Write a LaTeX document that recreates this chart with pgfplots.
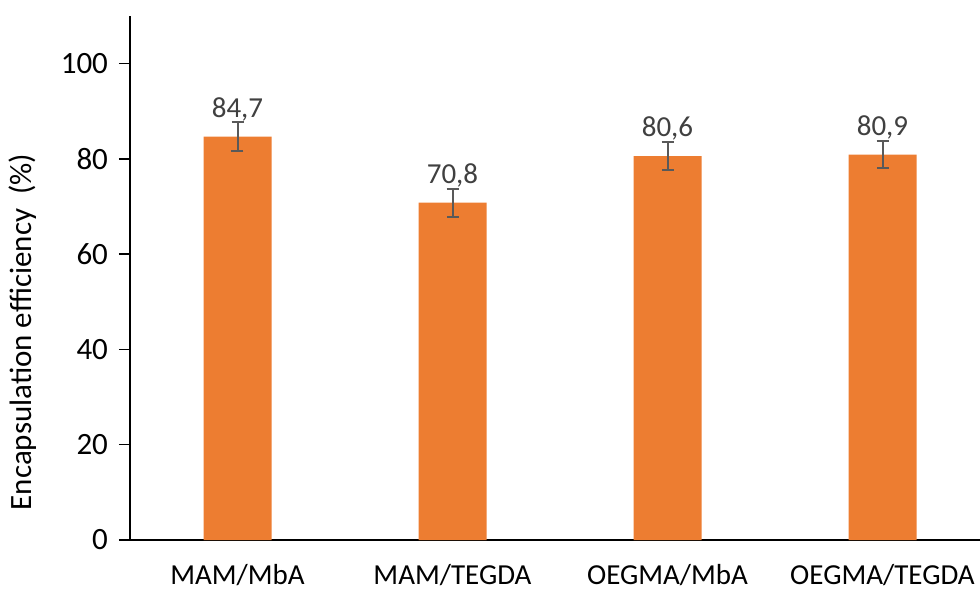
\documentclass[border=0pt]{standalone}
\usepackage{fontspec}
\setmainfont{Carlito}
\usepackage{pgfplots}
\pgfplotsset{compat=1.18}
\definecolor{barorange}{HTML}{ED7D31}
\definecolor{labelgray}{HTML}{404040}
\definecolor{errgray}{HTML}{595959}

\begin{document}
\begin{tikzpicture}
\begin{axis}[
    at={(0,0)}, anchor=south west,
    scale only axis,
    width=430pt, height=262pt,
    ybar, bar width=34pt, bar shift=0pt,
    xmin=-0.5, xmax=3.5,
    ymin=0, ymax=110,
    enlargelimits=false,
    axis x line*=bottom, axis y line*=left,
    axis line style={-, black, line width=0.75pt},
    xtick=data,
    xticklabels={MAM/MbA, MAM/TEGDA, OEGMA/MbA, OEGMA/TEGDA},
    x tick style={draw=none},
    x tick label style={font=\fontsize{14.5}{16}\selectfont, inner sep=0pt, yshift=-6.3pt},
    ytick={0,20,40,60,80,100},
    y tick style={black, line width=0.75pt},
    tick align=outside,
    major tick length=5.5pt,
    y tick label style={font=\fontsize{15.5}{17}\selectfont, xshift=-2pt},
    /pgf/number format/assume math mode=true,
    ylabel={Encapsulation efficiency\ \ (\%)},
    ylabel style={at={(axis description cs:-0.1245,0.397)}, anchor=center, rotate=0,
        font=\fontsize{15.5}{17}\selectfont},
    nodes near coords={\pgfmathprintnumber[fixed, fixed zerofill, precision=1, use comma]{\pgfplotspointmeta}},
    nodes near coords style={font=\fontsize{14.5}{16}\selectfont, text=labelgray, anchor=base, yshift=9.7pt},
    point meta=y,
]
\addplot[fill=barorange, draw=none,
    error bars/.cd, y dir=both, y explicit,
    error bar style={errgray, line width=1pt},
    error mark options={errgray, line width=1pt, mark size=3pt, rotate=90}]
    table[x=x, y=y, y error=e] {
x y e
0 84.7 3.0
1 70.8 2.9
2 80.6 2.9
3 80.9 2.9
};
\end{axis}
\pgfresetboundingbox
\path (-65pt,-24.5pt) rectangle (425pt,270pt);
\end{tikzpicture}
\end{document}
